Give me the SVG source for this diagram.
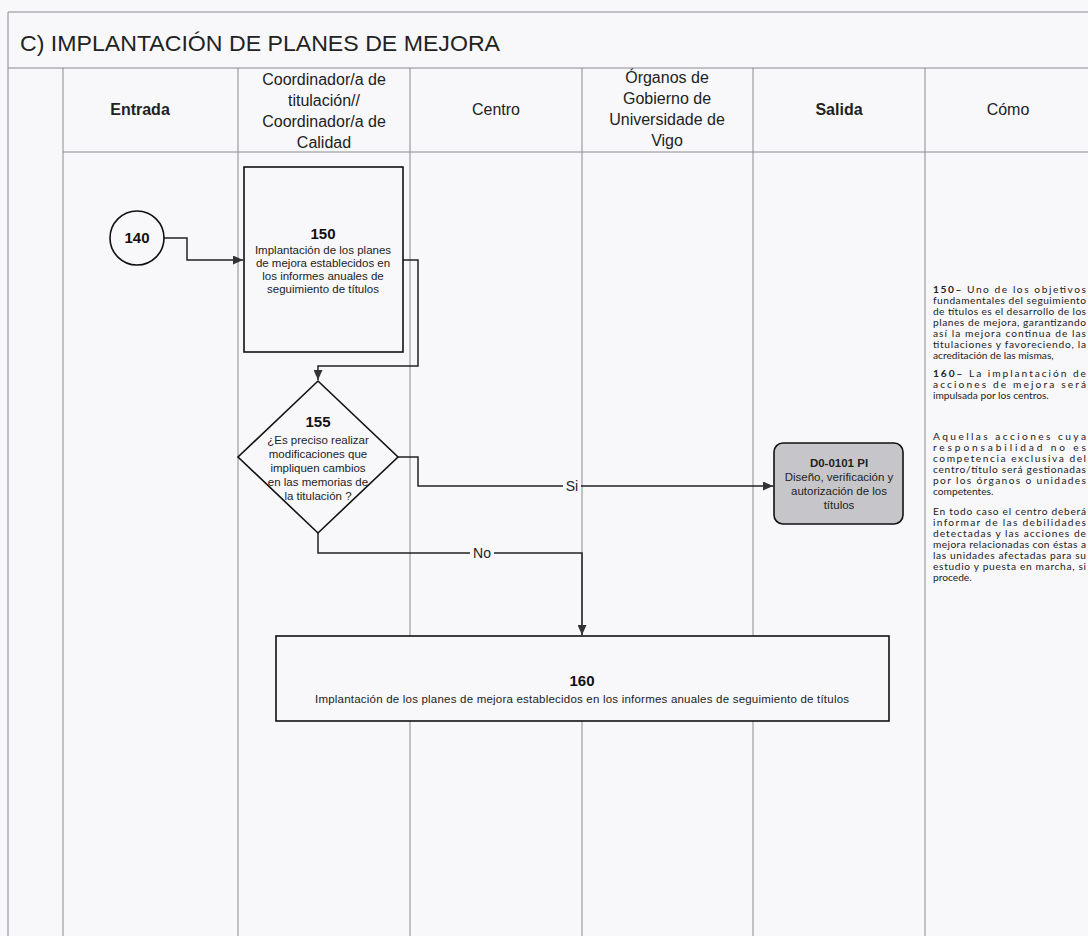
<svg xmlns="http://www.w3.org/2000/svg" width="1088" height="936" viewBox="0 0 1088 936">
<defs>
<style>
.grid{stroke:#8a8a90;stroke-width:1;fill:none}
.hdr{font-family:"Liberation Sans",Arial,sans-serif;font-size:16px;fill:#222;text-anchor:middle}
.hb{font-weight:bold}
.box{fill:#f8f8fb;stroke:#111;stroke-width:1.6}
.num{font-family:"Liberation Sans",Arial,sans-serif;font-size:15px;font-weight:bold;fill:#111;text-anchor:middle}
.txt{font-family:"Liberation Sans",Arial,sans-serif;font-size:11.5px;fill:#222;text-anchor:middle}
.conn{fill:none;stroke:#222;stroke-width:1.5}
.lbl{font-family:"Liberation Sans",Arial,sans-serif;font-size:14px;fill:#222;text-anchor:middle}
.side{font-family:Lato,"Open Sans",sans-serif;font-size:10.2px;fill:#222}
</style>
<marker id="arr" markerWidth="11" markerHeight="9" refX="10" refY="4.5" orient="auto" markerUnits="userSpaceOnUse">
<path d="M0,0 L10,4.5 L0,9 z" fill="#333"/>
</marker>
</defs>
<rect x="0" y="0" width="1088" height="936" fill="#f8f8fb"/>
<g id="table">
<line class="grid" x1="8" y1="12" x2="1088" y2="12"/>
<line class="grid" x1="8" y1="68" x2="1088" y2="68"/>
<line class="grid" x1="63" y1="152" x2="1088" y2="152"/>
<line class="grid" x1="8" y1="12" x2="8" y2="936"/>
<line class="grid" x1="63" y1="68" x2="63" y2="936"/>
<line class="grid" x1="238" y1="68" x2="238" y2="936"/>
<line class="grid" x1="410" y1="68" x2="410" y2="936"/>
<line class="grid" x1="582" y1="68" x2="582" y2="936"/>
<line class="grid" x1="753" y1="68" x2="753" y2="936"/>
<line class="grid" x1="925" y1="68" x2="925" y2="936"/>
<text x="20" y="51" font-family="Liberation Sans,Arial,sans-serif" font-size="22" fill="#222" textLength="480" lengthAdjust="spacingAndGlyphs">C) IMPLANTACIÓN DE PLANES DE MEJORA</text>
<text class="hdr hb" x="140" y="115">Entrada</text>
<text class="hdr" x="324" y="85">Coordinador/a de</text>
<text class="hdr" x="324" y="106">titulación//</text>
<text class="hdr" x="324" y="127">Coordinador/a de</text>
<text class="hdr" x="324" y="148">Calidad</text>
<text class="hdr" x="496" y="115">Centro</text>
<text class="hdr" x="667" y="83">Órganos de</text>
<text class="hdr" x="667" y="104">Gobierno de</text>
<text class="hdr" x="667" y="125">Universidade de</text>
<text class="hdr" x="667" y="146">Vigo</text>
<text class="hdr hb" x="839" y="115">Salida</text>
<text class="hdr" x="1008" y="115">Cómo</text>
</g>
<g id="connectors">
<path class="conn" d="M164,238 H187 V260 H243" marker-end="url(#arr)"/>
<path class="conn" d="M403,260 H418 V366 H318 V380" marker-end="url(#arr)"/>
<path class="conn" d="M398,457 H418 V486 H773" marker-end="url(#arr)"/>
<path class="conn" d="M318,533 V553 H582 V635" marker-end="url(#arr)"/>
<rect x="563" y="478" width="18" height="16" fill="#f8f8fb"/>
<text class="lbl" x="572" y="491">Si</text>
<rect x="470" y="545" width="24" height="16" fill="#f8f8fb"/>
<text class="lbl" x="482" y="558">No</text>
</g>
<g id="n140">
<circle class="box" cx="137" cy="238" r="27"/>
<text class="num" x="137" y="243">140</text>
</g>
<g id="n150">
<rect class="box" x="244" y="167" width="159" height="185"/>
<text class="num" x="323" y="239">150</text>
<text class="txt" x="323" y="254">Implantación de los planes</text>
<text class="txt" x="323" y="267">de mejora establecidos en</text>
<text class="txt" x="323" y="280">los informes anuales de</text>
<text class="txt" x="323" y="293">seguimiento de títulos</text>
</g>
<g id="n155">
<polygon class="box" points="318,381 398,457 318,533 238,457"/>
<text class="num" x="318" y="427">155</text>
<text class="txt" x="318" y="444">¿Es preciso realizar</text>
<text class="txt" x="318" y="458">modificaciones que</text>
<text class="txt" x="318" y="472">impliquen cambios</text>
<text class="txt" x="318" y="486">en las memorias de</text>
<text class="txt" x="318" y="500">la titulación ?</text>
</g>
<g id="nD0">
<rect x="774" y="443" width="129" height="81" rx="9" fill="#c6c6ca" stroke="#111" stroke-width="1.6"/>
<text class="txt" x="839" y="467" font-weight="bold" font-size="12">D0-0101 PI</text>
<text class="txt" x="839" y="481" font-size="12">Diseño, verificación y</text>
<text class="txt" x="839" y="495" font-size="12">autorización de los</text>
<text class="txt" x="839" y="509" font-size="12">títulos</text>
</g>
<g id="n160">
<rect class="box" x="276" y="636" width="613" height="85"/>
<text class="num" x="582" y="686">160</text>
<text class="txt" x="582" y="703" font-size="11.5" textLength="534" lengthAdjust="spacing">Implantación de los planes de mejora establecidos en los informes anuales de seguimiento de títulos</text>
</g>
<g id="como">
<text class="side" x="933" y="293" textLength="153" lengthAdjust="spacing"><tspan font-weight="bold">150–</tspan> Uno de los objetivos</text>
<text class="side" x="933" y="304" textLength="153" lengthAdjust="spacing">fundamentales del seguimiento</text>
<text class="side" x="933" y="315" textLength="153" lengthAdjust="spacing">de títulos es el desarrollo de los</text>
<text class="side" x="933" y="326" textLength="153" lengthAdjust="spacing">planes de mejora, garantizando</text>
<text class="side" x="933" y="337" textLength="153" lengthAdjust="spacing">así la mejora continua de las</text>
<text class="side" x="933" y="348" textLength="153" lengthAdjust="spacing">titulaciones y favoreciendo, la</text>
<text class="side" x="933" y="359">acreditación de las mismas,</text>
<text class="side" x="933" y="377" textLength="153" lengthAdjust="spacing"><tspan font-weight="bold">160–</tspan> La implantación de</text>
<text class="side" x="933" y="388" textLength="153" lengthAdjust="spacing">acciones de mejora será</text>
<text class="side" x="933" y="399">impulsada por los centros.</text>
<text class="side" x="933" y="440" textLength="153" lengthAdjust="spacing">Aquellas acciones cuya</text>
<text class="side" x="933" y="451" textLength="153" lengthAdjust="spacing">responsabilidad no es</text>
<text class="side" x="933" y="462" textLength="153" lengthAdjust="spacing">competencia exclusiva del</text>
<text class="side" x="933" y="473" textLength="153" lengthAdjust="spacing">centro/título será gestionadas</text>
<text class="side" x="933" y="484" textLength="153" lengthAdjust="spacing">por los órganos o unidades</text>
<text class="side" x="933" y="495">competentes.</text>
<text class="side" x="933" y="515" textLength="153" lengthAdjust="spacing">En todo caso el centro deberá</text>
<text class="side" x="933" y="526" textLength="153" lengthAdjust="spacing">informar de las debilidades</text>
<text class="side" x="933" y="537" textLength="153" lengthAdjust="spacing">detectadas y las acciones de</text>
<text class="side" x="933" y="548" textLength="153" lengthAdjust="spacing">mejora relacionadas con éstas a</text>
<text class="side" x="933" y="559" textLength="153" lengthAdjust="spacing">las unidades afectadas para su</text>
<text class="side" x="933" y="570" textLength="153" lengthAdjust="spacing">estudio y puesta en marcha, si</text>
<text class="side" x="933" y="581">procede.</text>
</g>
</svg>
